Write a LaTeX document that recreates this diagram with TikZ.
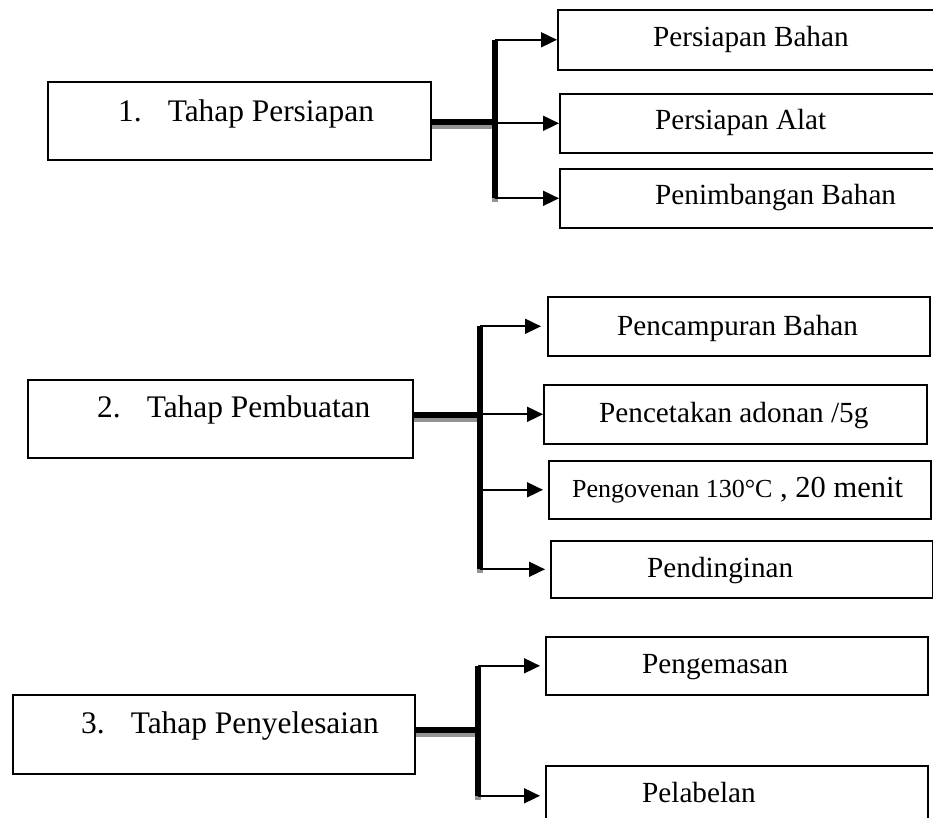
\documentclass[tikz,border=0pt]{standalone}
\usepackage{fontspec}
\setmainfont{Liberation Serif}
\usetikzlibrary{arrows.meta}
\begin{document}
\begin{tikzpicture}[x=1pt,y=-1pt,
  box/.style={draw=black, line width=1.6pt, inner sep=0pt, anchor=north west},
  lt/.style={inner sep=0pt, anchor=base west, font=\fontsize{31.4pt}{36pt}\selectfont},
  rt/.style={inner sep=0pt, anchor=base west, font=\fontsize{29.2pt}{34pt}\selectfont},
  arr/.style={line width=1.8pt, -{Triangle[length=16pt,width=15pt]}},
  bar/.style={line width=6pt, black},
  barshade/.style={line width=6pt, black!42}]
\useasboundingbox (0,0) rectangle (933,818);
\clip (0,0) rectangle (933,818);
\fill[white] (0,0) rectangle (933,818);

% ---------- group 1 ----------
\node[box, minimum width=383pt, minimum height=78pt] (a1) at (47,81) {};
\node[lt] (ta1) at (118,122) {1.\hspace{26pt}Tahap Persiapan};
\node[box, minimum width=390pt, minimum height=60pt] (b1) at (557,9) {};
\node[box, minimum width=388pt, minimum height=59pt] (b2) at (559,93) {};
\node[box, minimum width=388pt, minimum height=59pt] (b3) at (559,168) {};
\node[rt] (tb1) at (653,47) {Persiapan Bahan};
\node[rt] (tb2) at (655,130) {Persiapan Alat};
\node[rt] (tb3) at (655,205) {Penimbangan Bahan};
\coordinate (j1) at (495,122);
\begin{scope}[transform canvas={yshift=-4pt}]
  \draw[barshade] (a1.east |- j1) -- (j1);
  \draw[barshade] (j1 |- b1.west) -- (j1 |- b3.west);
\end{scope}
\draw[bar] (a1.east |- j1) -- (j1);
\draw[bar] (j1 |- b1.west) -- (j1 |- b3.west);
\draw[arr] (j1 |- b1.west) -- (b1.west);
\draw[arr] (j1 |- b2.west) -- (b2.west);
\draw[arr] (j1 |- b3.west) -- (b3.west);

% ---------- group 2 ----------
\node[box, minimum width=385pt, minimum height=78pt] (a2) at (27,379) {};
\node[lt] (ta2) at (97,417) {2.\hspace{26pt}Tahap Pembuatan};
\node[box, minimum width=382pt, minimum height=59pt] (c1) at (547,296) {};
\node[box, minimum width=383pt, minimum height=59pt] (c2) at (543,384) {};
\node[box, minimum width=382pt, minimum height=58pt] (c3) at (548,460) {};
\node[box, minimum width=382pt, minimum height=57pt] (c4) at (550,540) {};
\node[rt] (tc1) at (617,335) {Pencampuran Bahan};
\node[rt] (tc2) at (599,422) {Pencetakan adonan /5g};
\node[rt, font=\fontsize{30.5pt}{34pt}\selectfont] (tc3) at (572,497) {{\fontsize{26pt}{30pt}\selectfont Pengovenan 130°C} , 20 menit};
\node[rt] (tc4) at (647,577) {Pendinginan};
\coordinate (j2) at (480,415);
\begin{scope}[transform canvas={yshift=-4pt}]
  \draw[barshade] (a2.east |- j2) -- (j2);
  \draw[barshade] (j2 |- c1.west) -- (j2 |- c4.west);
\end{scope}
\draw[bar] (a2.east |- j2) -- (j2);
\draw[bar] (j2 |- c1.west) -- (j2 |- c4.west);
\draw[arr, shorten >=6pt] (j2 |- c1.west) -- (c1.west);
\draw[arr] (j2 |- c2.west) -- (c2.west);
\draw[arr, shorten >=5pt] (j2 |- c3.west) -- (c3.west);
\draw[arr, shorten >=5pt] (j2 |- c4.west) -- (c4.west);

% ---------- group 3 ----------
\node[box, minimum width=402pt, minimum height=79pt] (a3) at (12,694) {};
\node[lt] (ta3) at (81,733) {3.\hspace{26pt}Tahap Penyelesaian};
\node[box, minimum width=382pt, minimum height=58pt] (d1) at (545,636) {};
\node[box, minimum width=382pt, minimum height=60pt] (d2) at (545,765) {};
\node[rt] (td1) at (642,673) {Pengemasan};
\node[rt] (td2) at (642,802) {Pelabelan};
\coordinate (j3) at (478,730);
\begin{scope}[transform canvas={yshift=-4pt}]
  \draw[barshade] (a3.east |- j3) -- (j3);
  \draw[barshade] (j3 |- d1.west) -- (j3 |- d2.west);
\end{scope}
\draw[bar] (a3.east |- j3) -- (j3);
\draw[bar] (j3 |- d1.west) -- (j3 |- d2.west);
\draw[arr, shorten >=5pt] (j3 |- d1.west) -- (d1.west);
\draw[arr, shorten >=5pt] (j3 |- d2.west) -- (d2.west);
\end{tikzpicture}
\end{document}
